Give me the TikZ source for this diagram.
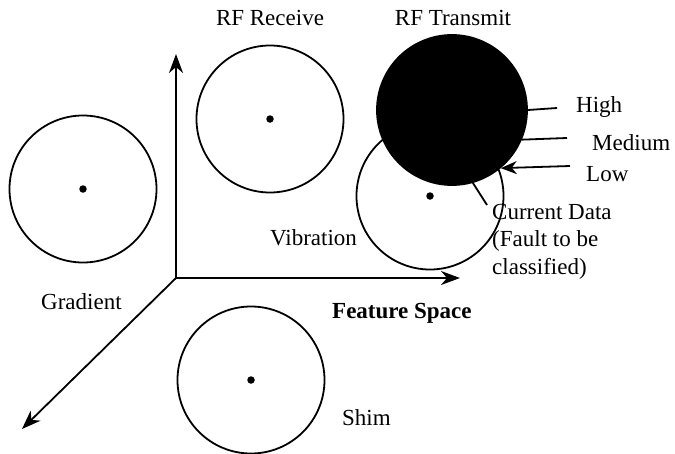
\documentclass[tikz,border=0pt]{standalone}
\usepackage{fontspec}
\setmainfont{Liberation Serif}
\usetikzlibrary{arrows.meta}
\begin{document}
\begin{tikzpicture}[x=1pt,y=-1pt,
  cls/.style={circle,draw,line width=1.8pt,minimum size=147pt,inner sep=0pt},
  ctr/.style={circle,fill,inner sep=0pt,minimum size=7.5pt},
  lbl/.style={font=\fontsize{23}{27}\selectfont,inner sep=0pt},
  axis/.style={line width=1.8pt,-{Stealth[length=19pt,width=14pt,inset=6pt]}},
  lead/.style={line width=1.8pt}]
\useasboundingbox (0,0) rectangle (675,453);
% axes
\coordinate (O) at (176,278);
\coordinate (yend) at (176,54);
\coordinate (xend) at (460,278);
\coordinate (zend) at (22,429);
\draw[axis] (O) -- (yend);
\draw[axis] (O) -- (xend);
\draw[axis] (O) -- (zend);
% class circles
\node[cls] (grad) at (83,189) {};
\node[ctr] (gradc) at (grad.center) {};
\node[cls] (rfr) at (270,119) {};
\node[ctr] (rfrc) at (rfr.center) {};
\node[cls] (vib) at (430,196) {};
\node[ctr] (vibc) at (vib.center) {};
\node[cls] (shim) at (251,380) {};
\node[ctr] (shimc) at (shim.center) {};
\node[cls,fill=black,minimum size=150pt] (rft) at (452,110) {};
% labels
\node[lbl] (lrfr) at (270,18) {RF Receive};
\node[lbl] (lrft) at (453,18) {RF Transmit};
\node[lbl,anchor=west] (high) at (576,107) {High};
\node[lbl,anchor=west] (medium) at (592,143) {Medium};
\node[lbl,anchor=west] (low) at (586,174) {Low};
\node[lbl,anchor=north west,align=left,font=\fontsize{23}{27.5}\selectfont] (cur) at (492,204) {Current Data\\(Fault to be\\classified)};
\node[lbl,anchor=west] (lvib) at (270,238) {Vibration};
\node[lbl,anchor=west] (lgrad) at (41,302) {Gradient};
\node[lbl,anchor=west,font=\fontsize{23}{27}\selectfont\bfseries] (fs) at (332,313) {Feature Space};
\node[lbl,anchor=west] (lshim) at (342,418) {Shim};
% leader lines
\coordinate (hend) at (557,108);
\coordinate (mend) at (567,138);
\coordinate (lstart) at (570,166);
\coordinate (cend) at (487,205);
\draw[lead] (rft.0) -- (hend);
\draw[lead] (rft.-23) -- (mend);
\draw[lead,-{Stealth[length=16pt,width=13pt,inset=5pt]}] (lstart) -- (rft.-50);
\draw[lead] (rft.-74) -- (cend);
\end{tikzpicture}
\end{document}
